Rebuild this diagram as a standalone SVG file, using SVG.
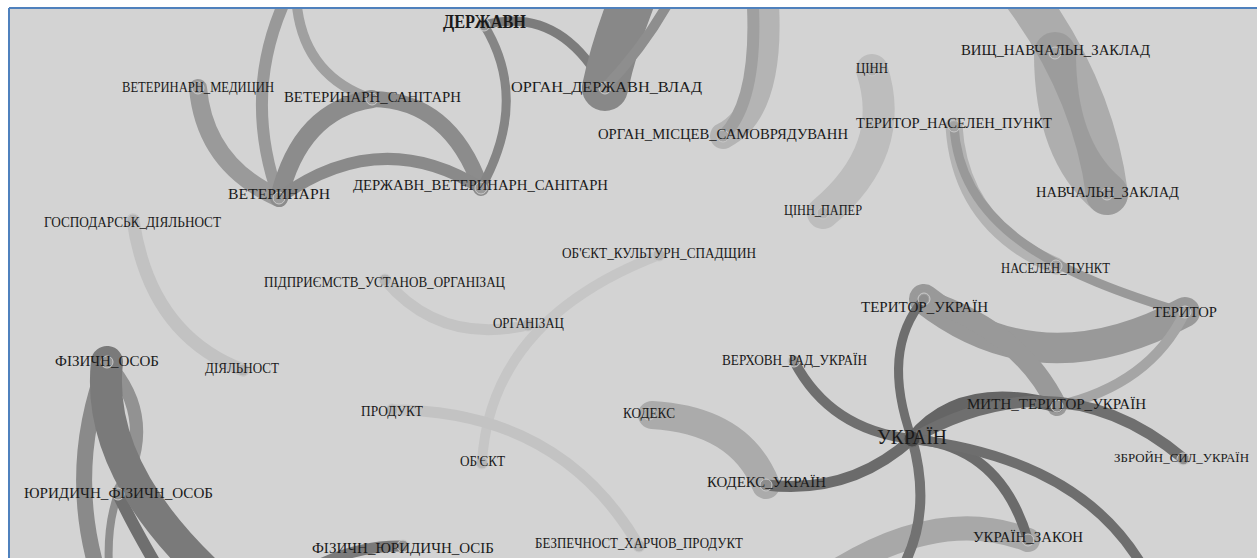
<svg xmlns="http://www.w3.org/2000/svg" width="1257" height="558" viewBox="0 0 1257 558">
<style>
.e{fill:none;stroke-linecap:round}
.n{fill:#a9a9a9;fill-opacity:0.55;stroke:#c9c9c9;stroke-width:1}
.l{font-family:"Liberation Serif","DejaVu Serif",serif;font-size:15px;fill:#1a1a1a}
</style>
<defs>
<clipPath id="cp"><rect x="10" y="9" width="1247" height="549"/></clipPath>
</defs>
<rect x="0" y="0" width="1257" height="558" fill="#ffffff"/>
<rect x="10" y="9" width="1247" height="549" fill="#d3d3d3"/>
<line x1="9" y1="8" x2="1257" y2="8" stroke="#4f81bd" stroke-width="2"/>
<line x1="9" y1="8" x2="9" y2="558" stroke="#4f81bd" stroke-width="2"/>
<g id="connectors" clip-path="url(#cp)">
<path class="e" d="M133,220 Q150,335 243,370" stroke="#c2c2c2" stroke-width="13"/>
<path class="e" d="M385,280 Q440,345 528,325" stroke="#c4c4c4" stroke-width="11"/>
<path class="e" d="M659,255 Q490,320 482,463" stroke="#c6c6c6" stroke-width="10"/>
<path class="e" d="M392,410 Q560,410 639,546" stroke="#c3c3c3" stroke-width="11"/>
<path class="e" d="M872,70 Q898,150 823,213" stroke="#bdbdbd" stroke-width="32"/>
<path class="e" d="M1107,194 Q1092,80 1012,-20" stroke="#acacac" stroke-width="42"/>
<path class="e" d="M1055,53 Q1055,150 1107,194" stroke="#8f8f8f" stroke-opacity="0.55" stroke-width="42"/>
<path class="e" d="M954,126 Q960,225 1056,266" stroke="#b3b3b3" stroke-width="17"/>
<path class="e" d="M954,126 C960,230 1060,275 1185,313" stroke="#999999" stroke-width="9"/>
<path class="e" d="M723,136 Q775,110 765,-10" stroke="#b4b4b4" stroke-width="26"/>
<path class="e" d="M723,136 Q760,100 752,-10" stroke="#a0a0a0" stroke-width="12"/>
<path class="e" d="M198,88 Q205,165 279,198" stroke="#9a9a9a" stroke-width="18"/>
<path class="e" d="M279,198 Q240,90 290,-10" stroke="#999999" stroke-width="12"/>
<path class="e" d="M296,-5 Q300,75 372,99" stroke="#a0a0a0" stroke-width="10"/>
<path class="e" d="M279,198 Q300,110 372,99" stroke="#8c8c8c" stroke-width="18"/>
<path class="e" d="M372,99 Q450,100 481,188" stroke="#8c8c8c" stroke-width="16"/>
<path class="e" d="M279,198 Q380,125 481,188" stroke="#8a8a8a" stroke-width="12"/>
<path class="e" d="M484,25 Q530,100 481,188" stroke="#858585" stroke-width="9"/>
<path class="e" d="M484,25 Q560,5 605,88" stroke="#7c7c7c" stroke-width="9"/>
<path class="e" d="M605,88 Q615,40 640,-20" stroke="#888888" stroke-width="46"/>
<path class="e" d="M605,88 Q650,40 675,-10" stroke="#8e8e8e" stroke-width="10"/>
<path class="e" d="M924,299 Q1040,390 1185,312" stroke="#999999" stroke-width="30"/>
<path class="e" d="M924,299 Q1020,330 1057,406" stroke="#999999" stroke-width="20"/>
<path class="e" d="M1185,312 Q1150,385 1057,406" stroke="#a5a5a5" stroke-width="10"/>
<path class="e" d="M652,415 Q740,420 766,485" stroke="#ababab" stroke-width="28"/>
<path class="e" d="M1028,540 Q940,505 830,575" stroke="#a8a8a8" stroke-width="24"/>
<path class="e" d="M912,439 Q880,350 924,299" stroke="#6e6e6e" stroke-width="9"/>
<path class="e" d="M794,361 Q830,430 912,439" stroke="#6f6f6f" stroke-width="10"/>
<path class="e" d="M766,485 Q850,495 912,439" stroke="#6b6b6b" stroke-width="11"/>
<path class="e" d="M912,439 Q960,380 1057,406" stroke="#656565" stroke-width="13"/>
<path class="e" d="M912,439 Q1060,355 1184,459" stroke="#6f6f6f" stroke-width="11"/>
<path class="e" d="M912,439 Q1000,445 1028,540" stroke="#6b6b6b" stroke-width="10"/>
<path class="e" d="M912,439 Q1090,460 1150,580" stroke="#6e6e6e" stroke-width="10"/>
<path class="e" d="M912,439 Q935,520 895,580" stroke="#727272" stroke-width="10"/>
<path class="e" d="M107,362 Q65,470 100,580" stroke="#8a8a8a" stroke-width="16"/>
<path class="e" d="M107,362 Q160,420 118,494" stroke="#929292" stroke-width="13"/>
<path class="e" d="M118,494 Q105,530 110,580" stroke="#8e8e8e" stroke-width="8"/>
<path class="e" d="M118,494 Q135,530 165,580" stroke="#6f6f6f" stroke-width="12"/>
<path class="e" d="M107,362 Q95,470 215,580" stroke="#7a7a7a" stroke-width="32"/>
<path class="e" d="M403,546 Q350,545 300,575" stroke="#7a7a7a" stroke-width="11"/>
</g>
<g id="node-derzhavn"><circle class="n" cx="484" cy="25" r="6"/><text class="l" x="443" y="28" textLength="83" lengthAdjust="spacingAndGlyphs" style="font-size:19px;font-weight:bold">ДЕРЖАВН</text></g>
<g id="node-vet-medytsyn"><circle class="n" cx="198" cy="88" r="6"/><text class="l" x="122" y="92" textLength="152" lengthAdjust="spacingAndGlyphs">ВЕТЕРИНАРН_МЕДИЦИН</text></g>
<g id="node-vet-sanitarn"><circle class="n" cx="372" cy="99" r="6"/><text class="l" x="284" y="102" textLength="177" lengthAdjust="spacingAndGlyphs">ВЕТЕРИНАРН_САНІТАРН</text></g>
<g id="node-veterynarn"><circle class="n" cx="279" cy="198" r="6"/><text class="l" x="228" y="199" textLength="102" lengthAdjust="spacingAndGlyphs">ВЕТЕРИНАРН</text></g>
<g id="node-derzh-vet-san"><circle class="n" cx="481" cy="188" r="6"/><text class="l" x="353" y="190" textLength="255" lengthAdjust="spacingAndGlyphs">ДЕРЖАВН_ВЕТЕРИНАРН_САНІТАРН</text></g>
<g id="node-organ-derzh-vlad"><circle class="n" cx="605" cy="88" r="6"/><text class="l" x="511" y="92" textLength="191" lengthAdjust="spacingAndGlyphs">ОРГАН_ДЕРЖАВН_ВЛАД</text></g>
<g id="node-organ-mists"><circle class="n" cx="723" cy="136" r="6"/><text class="l" x="598" y="139" textLength="250" lengthAdjust="spacingAndGlyphs">ОРГАН_МІСЦЕВ_САМОВРЯДУВАНН</text></g>
<g id="node-tsinn"><circle class="n" cx="872" cy="70" r="6"/><text class="l" x="856" y="73" textLength="32" lengthAdjust="spacingAndGlyphs">ЦІНН</text></g>
<g id="node-tsinn-paper"><circle class="n" cx="823" cy="213" r="6"/><text class="l" x="784" y="215" textLength="78" lengthAdjust="spacingAndGlyphs">ЦІНН_ПАПЕР</text></g>
<g id="node-terytor-nas-punkt"><circle class="n" cx="954" cy="126" r="6"/><text class="l" x="856" y="128" textLength="196" lengthAdjust="spacingAndGlyphs">ТЕРИТОР_НАСЕЛЕН_ПУНКТ</text></g>
<g id="node-vyshch"><circle class="n" cx="1055" cy="53" r="6"/><text class="l" x="961" y="55" textLength="189" lengthAdjust="spacingAndGlyphs">ВИЩ_НАВЧАЛЬН_ЗАКЛАД</text></g>
<g id="node-navch-zaklad"><circle class="n" cx="1107" cy="194" r="6"/><text class="l" x="1036" y="197" textLength="143" lengthAdjust="spacingAndGlyphs">НАВЧАЛЬН_ЗАКЛАД</text></g>
<g id="node-naselen-punkt"><circle class="n" cx="1056" cy="266" r="6"/><text class="l" x="1001" y="273" textLength="109" lengthAdjust="spacingAndGlyphs">НАСЕЛЕН_ПУНКТ</text></g>
<g id="node-hosp-diyal"><circle class="n" cx="133" cy="220" r="6"/><text class="l" x="44" y="227" textLength="177" lengthAdjust="spacingAndGlyphs">ГОСПОДАРСЬК_ДІЯЛЬНОСТ</text></g>
<g id="node-diyalnost"><circle class="n" cx="243" cy="370" r="6"/><text class="l" x="205" y="373" textLength="74" lengthAdjust="spacingAndGlyphs">ДІЯЛЬНОСТ</text></g>
<g id="node-pidpryiemstv"><circle class="n" cx="385" cy="280" r="6"/><text class="l" x="264" y="287" textLength="241" lengthAdjust="spacingAndGlyphs">ПІДПРИЄМСТВ_УСТАНОВ_ОРГАНІЗАЦ</text></g>
<g id="node-orhanizats"><circle class="n" cx="528" cy="325" r="6"/><text class="l" x="493" y="328" textLength="71" lengthAdjust="spacingAndGlyphs">ОРГАНІЗАЦ</text></g>
<g id="node-obiekt-kult"><circle class="n" cx="659" cy="255" r="6"/><text class="l" x="562" y="258" textLength="194" lengthAdjust="spacingAndGlyphs">ОБ'ЄКТ_КУЛЬТУРН_СПАДЩИН</text></g>
<g id="node-obiekt"><circle class="n" cx="482" cy="463" r="6"/><text class="l" x="460" y="466" textLength="45" lengthAdjust="spacingAndGlyphs">ОБ'ЄКТ</text></g>
<g id="node-produkt"><circle class="n" cx="392" cy="410" r="6"/><text class="l" x="361" y="416" textLength="62" lengthAdjust="spacingAndGlyphs">ПРОДУКТ</text></g>
<g id="node-bezpechnost"><circle class="n" cx="639" cy="546" r="6"/><text class="l" x="535" y="548" textLength="208" lengthAdjust="spacingAndGlyphs">БЕЗПЕЧНОСТ_ХАРЧОВ_ПРОДУКТ</text></g>
<g id="node-fiz-yur-osib"><circle class="n" cx="403" cy="546" r="6"/><text class="l" x="312" y="553" textLength="182" lengthAdjust="spacingAndGlyphs">ФІЗИЧН_ЮРИДИЧН_ОСІБ</text></g>
<g id="node-fizychn-osob"><circle class="n" cx="107" cy="362" r="6"/><text class="l" x="55" y="366" textLength="104" lengthAdjust="spacingAndGlyphs">ФІЗИЧН_ОСОБ</text></g>
<g id="node-yur-fiz-osob"><circle class="n" cx="118" cy="494" r="6"/><text class="l" x="24" y="498" textLength="189" lengthAdjust="spacingAndGlyphs">ЮРИДИЧН_ФІЗИЧН_ОСОБ</text></g>
<g id="node-kodeks"><circle class="n" cx="649" cy="414" r="6"/><text class="l" x="623" y="418" textLength="52" lengthAdjust="spacingAndGlyphs">КОДЕКС</text></g>
<g id="node-kodeks-ukr"><circle class="n" cx="766" cy="485" r="6"/><text class="l" x="707" y="487" textLength="119" lengthAdjust="spacingAndGlyphs">КОДЕКС_УКРАЇН</text></g>
<g id="node-verkhovn"><circle class="n" cx="794" cy="361" r="6"/><text class="l" x="722" y="365" textLength="145" lengthAdjust="spacingAndGlyphs">ВЕРХОВН_РАД_УКРАЇН</text></g>
<g id="node-terytor-ukr"><circle class="n" cx="924" cy="299" r="6"/><text class="l" x="861" y="312" textLength="127" lengthAdjust="spacingAndGlyphs">ТЕРИТОР_УКРАЇН</text></g>
<g id="node-terytor"><circle class="n" cx="1185" cy="312" r="6"/><text class="l" x="1153" y="317" textLength="64" lengthAdjust="spacingAndGlyphs">ТЕРИТОР</text></g>
<g id="node-mytn"><circle class="n" cx="1057" cy="406" r="6"/><text class="l" x="967" y="409" textLength="179" lengthAdjust="spacingAndGlyphs">МИТН_ТЕРИТОР_УКРАЇН</text></g>
<g id="node-ukrain"><circle cx="912" cy="439" r="8" fill="#474747" stroke="#6a6a6a" stroke-width="1"/><text class="l" x="877" y="444" textLength="70" lengthAdjust="spacingAndGlyphs" style="font-size:21px">УКРАЇН</text></g>
<g id="node-zbroin"><circle class="n" cx="1183" cy="459" r="6"/><text class="l" x="1114" y="462" textLength="135" lengthAdjust="spacingAndGlyphs" style="font-size:13px">ЗБРОЙН_СИЛ_УКРАЇН</text></g>
<g id="node-ukrain-zakon"><circle class="n" cx="1028" cy="540" r="6"/><text class="l" x="973" y="542" textLength="110" lengthAdjust="spacingAndGlyphs">УКРАЇН_ЗАКОН</text></g>
</svg>
